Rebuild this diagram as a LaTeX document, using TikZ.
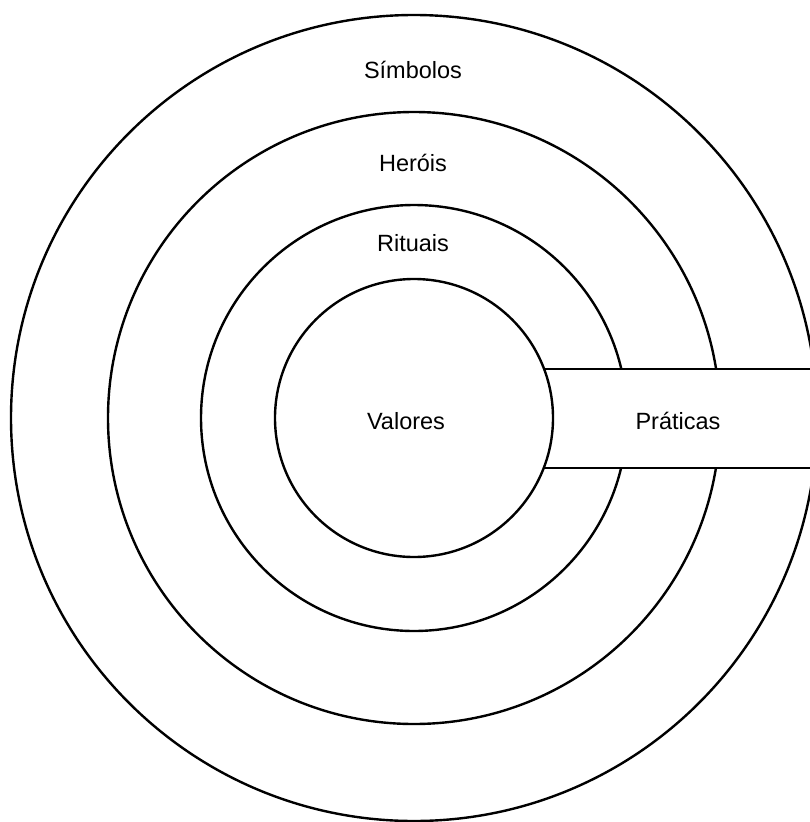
\documentclass[tikz,border=0pt]{standalone}
\usepackage{fontspec}
\setmainfont{Liberation Sans}
\begin{document}
\begin{tikzpicture}[x=1pt,y=-1pt,
  ring/.style={circle, draw=black, line width=2.4pt, fill=white, inner sep=0pt},
  label/.style={font=\fontsize{23.5}{28}\selectfont, inner sep=0pt, anchor=base},
  band/.style={draw=black, line width=2.4pt, fill=white}]
\useasboundingbox (0,0) rectangle (809,822);
\node[ring, minimum size=806pt] (simb) at (414,418) {};
\node[ring, minimum size=612pt] (hero) at (414,418) {};
\node[ring, minimum size=426pt] (ritu) at (414,418) {};
\draw[band] (520,369) rectangle (840,468);
\node[ring, minimum size=278pt] (valo) at (414,418) {};
\node[label] (tsimb) at (413,78) {Símbolos};
\node[label] (thero) at (413,171) {Heróis};
\node[label] (tritu) at (413,251) {Rituais};
\node[label] (tvalo) at (406,429) {Valores};
\node[label] (tprat) at (678,429) {Práticas};
\end{tikzpicture}
\end{document}
